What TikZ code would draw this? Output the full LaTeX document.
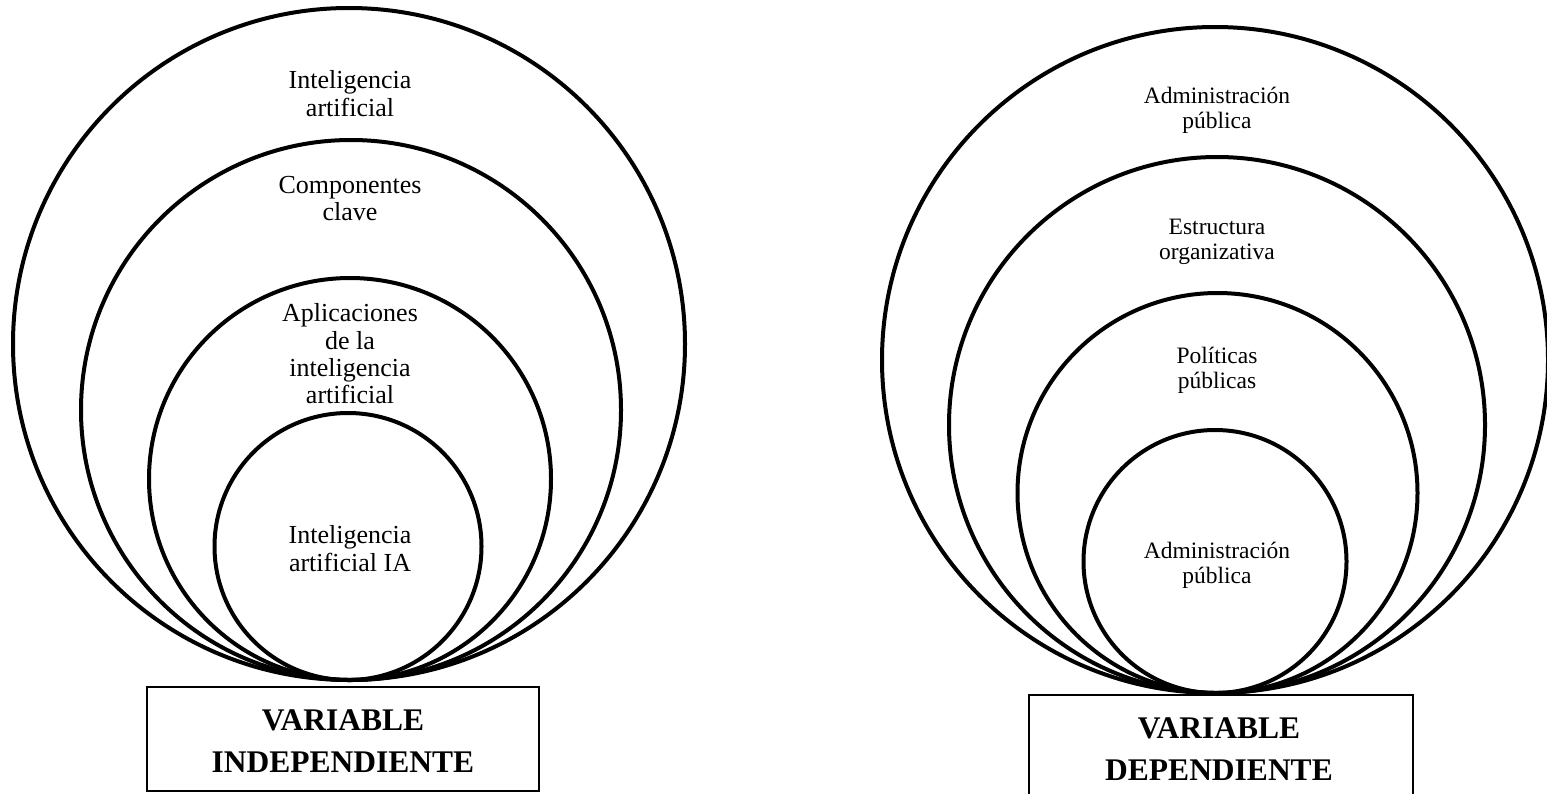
\documentclass[tikz,border=0pt]{standalone}
\usepackage{fontspec}
\setmainfont{Liberation Serif}
\begin{document}
\begin{tikzpicture}[x=1pt,y=-1pt,
  ring/.style={draw=black,line width=4pt,circle,inner sep=0pt,outer sep=0pt,minimum size=#1},
  lefttxt/.style={align=center,inner sep=0pt,font=\fontsize{26}{27.3}\selectfont},
  righttxt/.style={align=center,inner sep=0pt,font=\fontsize{23.5}{25}\selectfont},
  varbox/.style={draw=black,line width=2.8pt,inner sep=0pt}]
\useasboundingbox (0,0) rectangle (1547,793);
\clip (0,0) rectangle (1547,793);

% independent variable: nested tangent circles
\node[ring=672pt] (li1) at (349,344) {};
\node[ring=540pt] (li2) at (351,410) {};
\node[ring=402pt] (li3) at (350,479) {};
\node[ring=267pt] (li4) at (348,546.5) {};

\node[lefttxt] (lt1) at (350,93.5) {Inteligencia\\artificial};
\node[lefttxt] (lt2) at (350,198.5) {Componentes\\clave};
\node[lefttxt] (lt3) at (350,354) {Aplicaciones\\de la\\inteligencia\\artificial};
\node[lefttxt] (lt4) at (350,548.5) {Inteligencia\\artificial IA};

\node[varbox,minimum width=392pt,minimum height=104pt] (lbox) at (343,739) {};
\node[align=center,inner sep=0pt,font=\bfseries\fontsize{31.5}{42}\selectfont] (lbl) at (343,741) {VARIABLE\\INDEPENDIENTE};

% dependent variable: nested tangent circles
\node[ring=666pt] (ri1) at (1215,360) {};
\node[ring=536pt] (ri2) at (1217,425) {};
\node[ring=400pt] (ri3) at (1217.5,493) {};
\node[ring=263pt] (ri4) at (1215,561.5) {};

\node[righttxt] (rt1) at (1217,110.5) {Administración\\pública};
\node[righttxt] (rt2) at (1217,241.5) {Estructura\\organizativa};
\node[righttxt] (rt3) at (1217,370.5) {Políticas\\públicas};
\node[righttxt] (rt4) at (1217,565) {Administración\\pública};

\node[varbox,minimum width=384pt,minimum height=120pt] (rbox) at (1221,755) {};
\node[align=center,inner sep=0pt,font=\bfseries\fontsize{31.5}{42}\selectfont] (rbl) at (1219,749) {VARIABLE\\DEPENDIENTE};
\end{tikzpicture}
\end{document}
